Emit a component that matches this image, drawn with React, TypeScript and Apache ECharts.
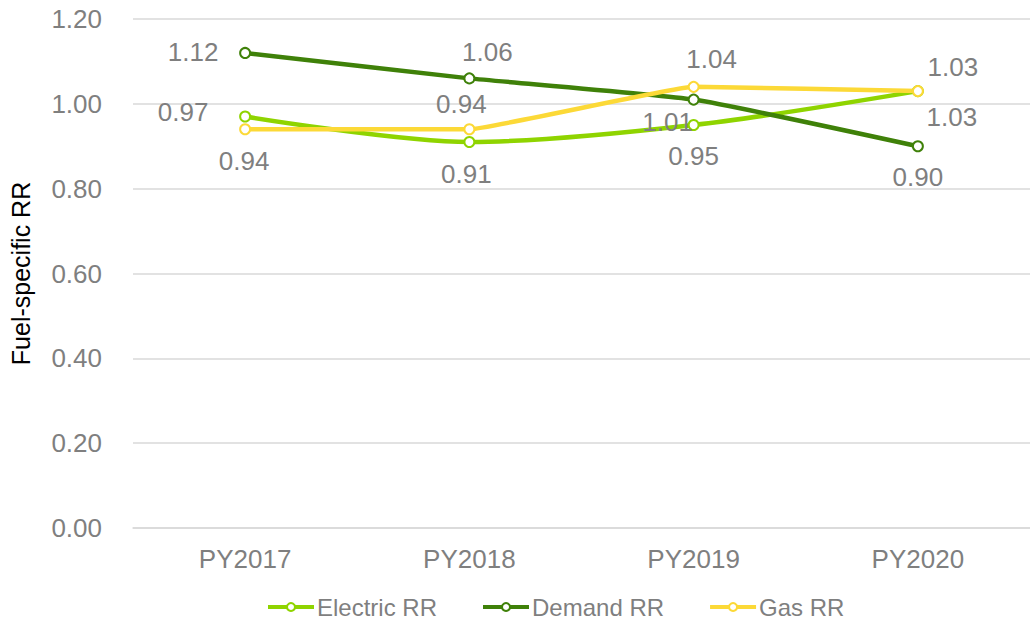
import React, { useEffect, useRef } from "react";
import * as echarts from "echarts";

const categories = ["PY2017", "PY2018", "PY2019", "PY2020"];
const electricRR = [0.97, 0.91, 0.95, 1.03];
const demandRR = [1.12, 1.06, 1.01, 0.9];
const gasRR = [0.94, 0.94, 1.04, 1.03];
const yTicks = [0, 0.2, 0.4, 0.6, 0.8, 1.0, 1.2];

// label offsets (pixels, styling only)
const electricOffsets = [[-62, -5], [-3, 32], [0, 31], [34, 26]];
const demandOffsets = [[-52, -1], [18, -26], [-26, 22], [0, 31]];
const gasOffsets = [[-1, 32], [-8, -25], [18, -28], [35, -24]];

const COLORS = { electric: "#8FD400", demand: "#3F8109", gas: "#FCD937" };
const GRAY = "#7F7F7F";
const FONT = "Liberation Sans, Arial, sans-serif";

function mkSeries(name: string, values: number[], color: string, offsets: number[][], smooth: number) {
  return {
    name,
    type: "line",
    smooth,
    symbol: "emptyCircle",
    symbolSize: 10,
    lineStyle: { color, width: 4.5 },
    itemStyle: { color, borderWidth: 3 },
    emphasis: { disabled: true },
    data: values.map((v, i) => ({
      value: v,
      label: {
        show: true,
        position: "inside",
        offset: offsets[i],
        align: "center",
        verticalAlign: "middle",
      },
    })),
    label: {
      show: true,
      color: GRAY,
      fontSize: 26,
      fontFamily: FONT,
      formatter: (p: any) => Number(p.value).toFixed(2),
    },
  };
}

export default function App() {
  const ref = useRef<HTMLDivElement>(null);
  useEffect(() => {
    if (!ref.current) return;
    const chart = echarts.init(ref.current, null, { renderer: "svg" });
    chart.setOption({
      animation: false,
      backgroundColor: "#ffffff",
      grid: { left: 126, right: -12, top: 19, bottom: 92, containLabel: false },
      legend: {
        left: 266,
        top: 595,
        padding: 0,
        itemWidth: 46,
        itemHeight: 10,
        itemGap: 44,
        itemStyle: { borderWidth: 2.5 },
        lineStyle: { width: 4 },
        textStyle: {
          color: GRAY,
          fontSize: 24,
          fontFamily: FONT,
          padding: [0, 0, 0, -2],
        },
        data: ["Electric RR", "Demand RR", "Gas RR"],
      },
      xAxis: {
        type: "category",
        data: categories,
        boundaryGap: true,
        axisLine: { show: true, lineStyle: { color: "#D9D9D9", width: 1.5 } },
        axisTick: { show: false },
        axisLabel: { color: GRAY, fontSize: 26, fontFamily: FONT, margin: 18 },
      },
      yAxis: {
        type: "value",
        min: yTicks[0],
        max: yTicks[yTicks.length - 1],
        interval: 0.2,
        name: "Fuel-specific RR",
        nameLocation: "middle",
        nameGap: 100,
        nameRotate: 90,
        nameTextStyle: { color: "#000000", fontSize: 25, fontFamily: FONT },
        axisLine: { show: false },
        axisTick: { show: false },
        splitLine: { lineStyle: { color: "#D9D9D9", width: 1.5 } },
        axisLabel: {
          color: GRAY,
          fontSize: 26,
          fontFamily: FONT,
          margin: 31,
          formatter: (v: number) => v.toFixed(2),
        },
      },
      series: [
        mkSeries("Electric RR", electricRR, COLORS.electric, electricOffsets, 0.3),
        mkSeries("Demand RR", demandRR, COLORS.demand, demandOffsets, 0.15),
        mkSeries("Gas RR", gasRR, COLORS.gas, gasOffsets, 0.08),
      ],
    });
    return () => chart.dispose();
  }, []);
  return (
    <div
      ref={ref}
      style={{ position: "fixed", left: 0, top: 0, width: 1030, height: 620, background: "#fff" }}
    />
  );
}
